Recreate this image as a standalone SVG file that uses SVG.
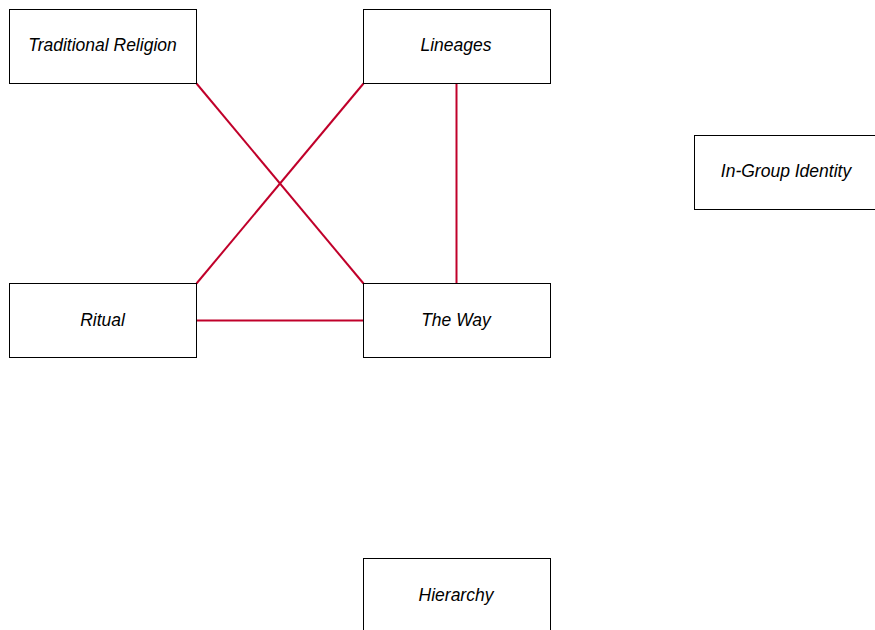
<svg xmlns="http://www.w3.org/2000/svg" width="875" height="630" viewBox="0 0 875 630">
<style>
.box{fill:#fff;stroke:#000;stroke-width:1}
.lbl{font-family:"Liberation Sans",Arial,sans-serif;font-size:17.5px;font-style:italic;fill:#000;text-anchor:middle;dominant-baseline:central}
.edge{stroke:#c0002a;stroke-width:2;fill:none}
</style>
<rect width="875" height="630" fill="#fff"/>
<g id="connectors">
<line class="edge" x1="196.5" y1="83.5" x2="363.5" y2="283.5"/>
<line class="edge" x1="363.5" y1="83.5" x2="196.5" y2="283.5"/>
<line class="edge" x1="456.5" y1="83.5" x2="456.5" y2="283.5"/>
<line class="edge" x1="196.5" y1="320.5" x2="363.5" y2="320.5"/>
</g>
<g id="traditional-religion"><rect class="box" x="9.5" y="9.5" width="187" height="74"/><text class="lbl" x="102.5" y="45">Traditional Religion</text></g>
<g id="lineages"><rect class="box" x="363.5" y="9.5" width="187" height="74"/><text class="lbl" x="456" y="45">Lineages</text></g>
<g id="in-group-identity"><rect class="box" x="694.5" y="135.5" width="187" height="74"/><text class="lbl" x="786" y="171">In-Group Identity</text></g>
<g id="ritual"><rect class="box" x="9.5" y="283.5" width="187" height="74"/><text class="lbl" x="102.5" y="320">Ritual</text></g>
<g id="the-way"><rect class="box" x="363.5" y="283.5" width="187" height="74"/><text class="lbl" x="456" y="320">The Way</text></g>
<g id="hierarchy"><rect class="box" x="363.5" y="558.5" width="187" height="74"/><text class="lbl" x="456" y="595">Hierarchy</text></g>
</svg>
